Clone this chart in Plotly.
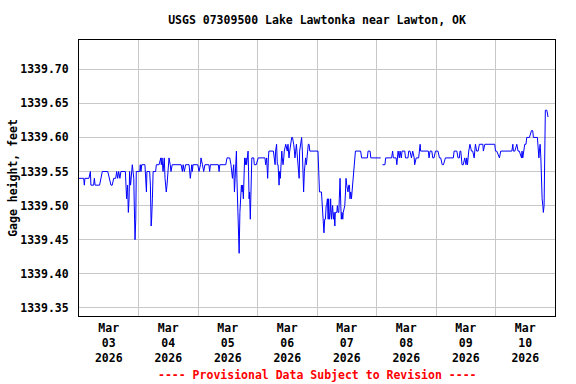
import plotly.graph_objects as go
from datetime import datetime, timedelta

# ---- data (hours after 2026-03-03 00:00, gage height in hundredths of a foot above 1339 ft) ----
BASE_FT = 1339.0
START = datetime(2026, 3, 3)

hours = [
    # Mar 03
    0, 1.9, 2.15, 2.4, 4.0, 4.3, 4.6, 4.8, 5.9, 6.2,
    6.5, 8.3, 8.7, 9.4, 11.6, 12.1, 12.9, 13.4, 14.0, 14.8,
    15.2, 15.6, 16.0, 16.5, 16.9, 18.7, 19.0, 19.2, 19.6, 19.9,
    20.2, 20.4, 20.8, 21.2, 21.5, 21.8, 22.1, 22.3, 22.6, 22.9,
    # Mar 04
    23.1, 24.5, 24.7, 25.0, 25.3, 26.6, 26.9, 27.2, 27.4, 28.5,
    28.8, 29.1, 29.3, 29.6, 29.9, 30.9, 31.2,
    32.3, 33.0, 33.2, 33.5, 33.9, 34.4, 34.7, 35.0, 35.2, 35.5,
    35.8, 36.0, 36.3, 36.8, 37.1, 37.6, 41.2, 41.7, 42.0, 42.5,
    43.0, 44.4, 44.9, 45.2, 45.5, 45.7, 46.0, 47.9,
    # Mar 05
    48.4, 49.0, 49.2, 49.8, 50.3, 50.8, 52.4, 52.7, 53.0, 56.2, 56.5, 56.8,
    59.2, 59.7, 60.8, 61.3, 61.6, 61.9, 62.1, 62.4, 62.7, 62.9,
    63.2, 63.5, 63.7, 64.0, 64.3, 64.6,
    64.9, 65.2, 65.5, 65.8, 66.0, 66.3, 66.6, 66.8, 67.1, 67.4,
    67.6, 67.9, 68.2, 68.4, 68.6, 68.8, 69.1, 69.4, 69.7, 70.5,
    70.7, 71.5,
    # Mar 06
    72.3, 75.0, 75.3, 75.7, 76.1, 76.4, 76.6, 78.4,
    78.8, 79.1, 79.3, 79.7, 80.0, 80.3, 80.7, 80.9, 81.2, 81.5,
    81.8, 82.0, 82.3, 82.6, 82.8, 83.4, 83.8, 84.0, 84.3, 84.7,
    85.0, 85.3, 85.8, 86.1, 86.3, 86.6, 86.9, 87.1, 87.4, 87.7,
    87.9, 88.2, 88.5, 88.8, 89.0, 89.3, 89.6, 89.8, 90.1, 90.4,
    90.6, 90.9, 91.2, 91.4, 91.7, 92.1, 92.5, 92.8, 93.1,
    # Mar 07
    96.4,
    96.7, 97.0, 97.8, 98.0, 98.6, 98.8, 99.1, 99.4, 99.7, 99.9,
    100.2, 100.5, 100.7, 101.0, 101.3, 101.5, 101.8, 102.1, 102.3, 102.6,
    102.9, 103.2, 103.4, 104.0, 104.2, 104.5, 104.8, 105.0, 105.3, 105.6,
    105.8, 106.1, 106.4, 106.6, 107.2, 107.5, 107.7, 108.0, 108.5, 108.8,
    109.1, 109.3, 109.6, 109.9, 110.1, 110.4, 110.7, 110.9, 111.2, 111.5,
    113.6, 114.0, 116.3, 116.6, 117.4, 117.7,
    # Mar 08
    121.7, 122.0,
    122.4, 123.4, 123.7, 126.1, 126.5, 126.8, 127.9, 128.2, 128.7, 129.2,
    129.5, 130.0, 130.3, 131.4, 131.7, 132.7, 133.0, 133.5, 134.1, 134.6,
    135.2, 135.4, 136.0, 137.0, 137.3, 137.6, 137.8, 140.9, 141.2, 141.6,
    142.3, 142.7, 143.2,
    # Mar 09
    143.8, 144.3, 144.8, 145.4, 145.9, 146.5, 147.0,
    147.8, 151.0, 151.3, 151.8, 152.4, 152.9, 153.4, 153.7, 154.0, 154.5,
    155.0, 155.6, 156.1, 156.4, 156.7, 157.2, 157.7, 158.3, 158.8, 159.4,
    159.6, 159.9, 160.4, 161.0, 161.5, 162.9, 163.1, 163.7, 167.7,
    # Mar 10
    168.0, 168.5, 169.6, 170.1, 174.6, 175.0, 175.2, 175.8, 176.6, 177.1, 177.6,
    178.5, 178.7, 179.0, 179.3, 179.8, 180.3, 180.6, 181.7, 182.5, 183.0,
    183.3, 184.9, 185.2, 185.5, 185.7, 186.0, 186.3, 186.5, 186.8, 187.1,
    187.3, 187.6, 187.9, 188.1, 188.7, 189.2,
]

gage_cents = [
    # Mar 03
    54, 54, 53, 54, 54, 55, 55, 53, 53, 54,
    53, 53, 54, 55, 55, 54, 53, 53, 54, 54,
    55, 54, 55, 54, 55, 55, 52, 51, 53, 49,
    51, 55, 53, 55, 56, 55, 54, 50, 45, 48,
    # Mar 04
    55, 55, 56, 55, 56, 56, 53, 52, 55, 55,
    53, 47, 48, 51, 55, 55, 56,
    56, 57, 56, 57, 55, 57, 54, 53, 52, 53,
    55, 56, 57, 56, 55, 56, 56, 55, 56, 55,
    56, 56, 54, 55, 56, 55, 56, 56,
    # Mar 05
    55, 56, 57, 56, 55, 56, 56, 55, 56, 56, 55, 56,
    56, 57, 57, 56, 55, 54, 55, 56, 52, 54,
    58, 58, 54, 49, 47, 43,
    49, 52, 53, 52, 53, 51, 55, 57, 56, 57,
    56, 57, 58, 55, 51, 52, 48, 52, 57, 57,
    56, 56,
    # Mar 06
    57, 57, 56, 57, 54, 57, 58, 58,
    57, 56, 58, 59, 56, 56, 53, 55, 54, 58,
    58, 57, 56, 57, 58, 59, 58, 58, 59, 57,
    58, 59, 60, 60, 59, 59, 58, 57, 58, 59,
    58, 57, 55, 54, 58, 59, 60, 60, 58, 54,
    52, 55, 56, 57, 56, 58, 59, 59, 58,
    # Mar 07
    58,
    55, 52, 52, 51, 48, 46, 48, 48, 50, 50,
    51, 48, 51, 48, 49, 51, 48, 49, 50, 48,
    49, 47, 49, 49, 50, 49, 49, 51, 54, 50,
    48, 49, 48, 49, 50, 52, 54, 53, 52, 53,
    53, 51, 52, 51, 52, 54, 55, 56, 57, 58,
    58, 57, 57, 58, 58, 57,
    # Mar 08
    57, None,
    56, 56, 57, 57, 58, 57, 57, 56, 58, 57,
    58, 57, 58, 58, 57, 57, 58, 58, 57, 58,
    57, 56, 57, 57, 58, 59, 58, 58, 57, 58,
    58, 57, 57,
    # Mar 09
    58, 58, 58, 57, 57, 56, 56,
    57, 57, 58, 58, 58, 57, 57, 58, 58, 56,
    56, 57, 56, 57, 56, 58, 59, 58, 58, 57,
    58, 59, 58, 58, 59, 59, 58, 59, 59,
    # Mar 10
    58, 58, 57, 58, 58, 59, 58, 58, 59, 58, 58,
    57, 58, 57, 58, 59, 59, 60, 60, 61, 61,
    60, 60, 58, 57, 58, 59, 57, 53, 51, 50,
    49, 50, 57, 64, 64, 63,
]

y_ticks = [1339.35, 1339.40, 1339.45, 1339.50, 1339.55, 1339.60, 1339.65, 1339.70]
y_range = [1339.338, 1339.743]
x_days = 8

title_text = "USGS 07309500 Lake Lawtonka near Lawton, OK"
y_title = "Gage height, feet"
note_text = "---- Provisional Data Subject to Revision ----"

assert len(hours) == len(gage_cents), (len(hours), len(gage_cents))

times = [START + timedelta(hours=h) for h in hours]
values = [None if c is None else round(BASE_FT + c / 100.0, 2) for c in gage_cents]

W, H = 576, 384
ML, MR, MT, MB = 79, 21, 40, 68
FONT = "DejaVu Sans Mono"
FS = 11.5

def bold(size=FS, color="black"):
    return dict(family=FONT, size=size, color=color, weight="bold")

fig = go.Figure(
    go.Scatter(
        x=times, y=values, mode="lines",
        line=dict(color="#0000ff", width=1),
        connectgaps=False, showlegend=False,
    )
)

axis_common = dict(
    showgrid=True, gridcolor="#c8c8c8", gridwidth=1,
    showline=True, linecolor="black", linewidth=1, mirror=True,
    zeroline=False, ticks="",
    tickfont=bold(),
)

fig.update_xaxes(
    type="date",
    range=[START, START + timedelta(days=x_days)],
    tick0=START, dtick=86400000,
    ticklabelmode="period",
    tickformat="%b<br>%d<br>%Y",
    ticklabelstandoff=1,
    **axis_common,
)
fig.update_yaxes(
    range=y_range,
    tickvals=y_ticks,
    tickformat=".2f",
    ticklabelstandoff=7,
    title=dict(text=y_title, font=bold(), standoff=0),
    **axis_common,
)

fig.update_layout(
    width=W, height=H,
    margin=dict(l=ML, r=MR, t=MT, b=MB, autoexpand=False),
    paper_bgcolor="white", plot_bgcolor="white",
    font=dict(family=FONT, size=FS, color="black"),
    title=dict(
        text=title_text, x=0.5, xref="paper", xanchor="center",
        y=1 - 20 / H, yref="container", yanchor="middle",
        font=bold(),
    ),
    annotations=[
        dict(
            text=note_text, x=0.5, xref="paper", xanchor="center",
            y=(H - MB - 375) / (H - MT - MB), yref="paper", yanchor="middle",
            showarrow=False,
            font=bold(color="#ff0000"),
        )
    ],
)

fig.write_html(
    "out.html",
    config={"displayModeBar": False},
    post_script="document.body.style.margin='0';document.body.style.padding='0';",
)
